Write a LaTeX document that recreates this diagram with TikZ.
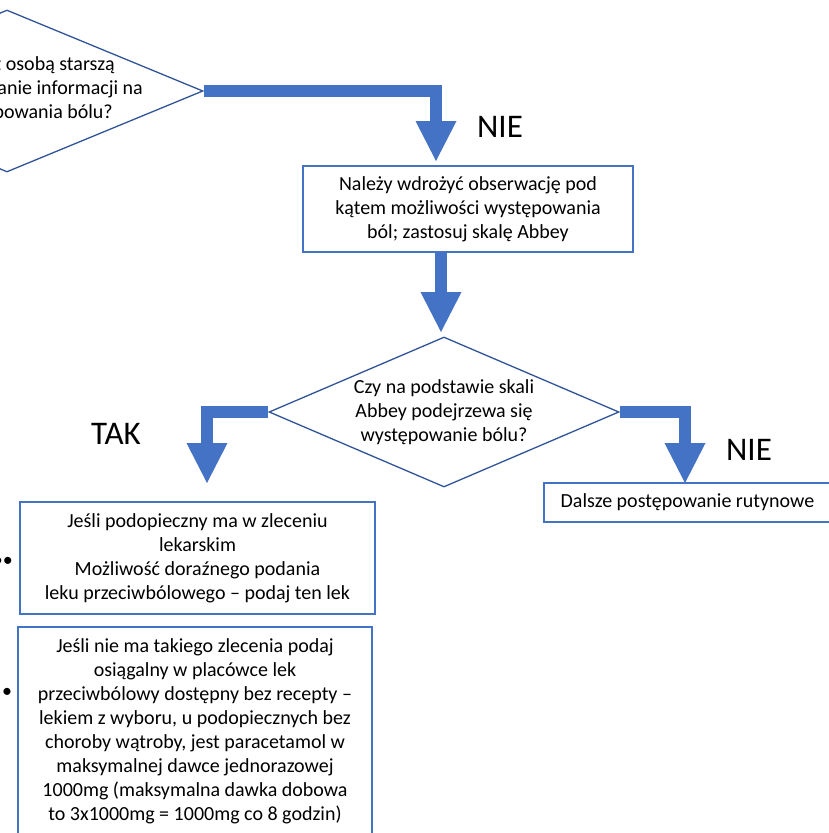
\documentclass[tikz,border=0pt]{standalone}
\usepackage{fontspec}
\setmainfont{Carlito}
\usetikzlibrary{shapes.geometric,arrows.meta}

\definecolor{arrowblue}{HTML}{4472C4}
\definecolor{boxblue}{HTML}{4472C4}
\definecolor{edgeblue}{HTML}{2F5597}

\tikzset{
    process/.style={draw=boxblue, line width=1.5pt, fill=white, align=center,
        inner sep=0pt, font=\fontsize{20}{24}\selectfont},
    decision/.style={diamond, draw=edgeblue, line width=1.3pt, inner sep=0pt},
    qtext/.style={align=center, inner sep=0pt, font=\fontsize{20}{24}\selectfont},
    flow/.style={draw=arrowblue, line width=12.5pt, line join=miter,
        -{Triangle[width=41pt,length=40pt,line width=0pt]}},
    tag/.style={inner sep=0pt, font=\fontsize{33}{40}\selectfont}
}

\begin{document}
\begin{tikzpicture}[x=1pt,y=-1pt]
                    \fill[white] (0,0) rectangle (828,833);
                    \useasboundingbox (0,0) rectangle (828,833);

                    % pytania
                    \node[decision, minimum width=392pt, minimum height=162pt] (ds1) at (7,91) {};
                    \node[qtext, align=right, anchor=east] (qtop) at (143,89)
                        {z osobą starszą\rule{28pt}{0pt}\\anie informacji na\\powania bólu?\rule{30pt}{0pt}};
                    \node[decision, minimum width=350pt, minimum height=150pt,
                        label={[qtext]center:Czy na podstawie skali\\Abbey podejrzewa się\\występowanie bólu?}]
                        (ds2) at (444,412) {};

                    % działania
                    \node[process, minimum width=330pt, minimum height=86pt] (obs) at (468,209)
                        {Należy wdrożyć obserwację pod\\kątem możliwości występowania\\ból; zastosuj skalę Abbey};
                    \node[process, minimum width=287pt, minimum height=39pt] (rutyna) at (687.5,502.5)
                        {Dalsze postępowanie rutynowe};
                    \node[process, minimum width=355pt, minimum height=112pt] (zlecenie) at (197.5,558)
                        {Jeśli podopieczny ma w zleceniu\\lekarskim\\Możliwość doraźnego podania\\leku przeciwbólowego -- podaj ten lek};
                    \node[process, minimum width=354pt, minimum height=209pt] (paracetamol) at (195,731.5)
                        {Jeśli nie ma takiego zlecenia podaj\\osiągalny w placówce lek\\przeciwbólowy dostępny bez recepty --\\lekiem z wyboru, u podopiecznych bez\\choroby wątroby, jest paracetamol w\\maksymalnej dawce jednorazowej\\1000mg (maksymalna dawka dobowa\\to 3x1000mg = 1000mg co 8 godzin)};
                    \node[qtext, anchor=east] (bula) at (13,562) {••};
                    \node[qtext] (bulb) at (7,693) {•};

                    % strzałki
                    \coordinate (t1) at (436,161);
                    \coordinate (t2) at (441,332);
                    \coordinate (t3) at (207,483);
                    \coordinate (t4) at (685,483);
                    \draw[flow] (ds1.east) -| (t1);
                    \draw[flow] (t2 |- obs.south) -- (t2);
                    \draw[flow] (ds2.west) -| (t3);
                    \draw[flow] (ds2.east) -| (t4);

                    \node[tag] (nie1) at (500,127) {NIE};
                    \node[tag] (tak) at (116,434) {TAK};
                    \node[tag] (nie2) at (749,450) {NIE};
                \end{tikzpicture}
\end{document}
